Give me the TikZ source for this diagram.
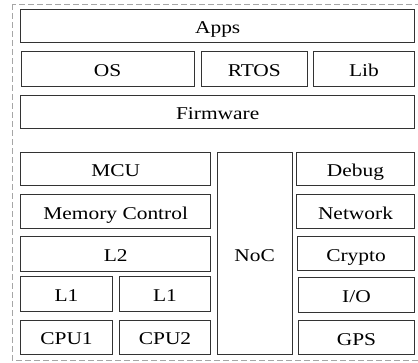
\documentclass[tikz,border=0pt]{standalone}
\usepackage{fontspec}
\setmainfont[FakeStretch=1.19]{Liberation Serif}
\usepackage{tikz}
\usetikzlibrary{positioning}

\begin{document}
\begin{tikzpicture}[x=1pt,y=-1pt]
            \tikzstyle{layer}=[rectangle, inner sep=0pt, line width=0.9pt, draw = black!80, minimum height = 34pt, text height=15.4pt, text depth=0pt, font=\fontsize{18}{20}\selectfont]
            \tikzstyle{frame}=[dashed, dash pattern=on 6pt off 3pt, line width=0.9pt, draw = black!35]
            \useasboundingbox (0,0) rectangle (418,362);
            \draw[frame] (12,4) rectangle (423,360);

            \node[layer, minimum width=394pt, minimum height=33.7pt] (Apps) at (217.7,25.85){Apps};
            \node[layer, minimum width=172.7pt, minimum height=34.3pt] (OS) at (107.65,68.85){OS};
            \node[layer, minimum width=106pt, minimum height=34.3pt] (RTOS) at (254.3,68.85){RTOS};
            \node[layer, minimum width=101.4pt, minimum height=34.3pt] (Lib) at (364,68.85){Lib};
            \node[layer, minimum width=394pt, minimum height=33.3pt] (FW) at (217.7,111.65){Firmware};

            \node[layer, minimum width=190pt, minimum height=33.4pt] (MCU) at (115.7,169){MCU};
            \node[layer, minimum width=190pt] (MC) at (115.7,211.3){Memory Control};
            \node[layer, minimum width=190pt, minimum height=34.3pt] (L2) at (115.7,253.85){L2};
            \node[layer, minimum width=91.6pt, minimum height=35pt] (L1a) at (66.5,294.2){L1};
            \node[layer, minimum width=91.4pt, minimum height=35pt] (L1b) at (165,294.2){L1};
            \node[layer, minimum width=91.6pt] (CPU1) at (66.5,337){CPU1};
            \node[layer, minimum width=91.4pt] (CPU2) at (165,337){CPU2};

            \node[layer, minimum width=74.7pt, minimum height=202pt] (NoC) at (254.65,253.3){NoC};

            \node[layer, minimum width=118.4pt, minimum height=33.4pt] (Debug) at (355.5,169){Debug};
            \node[layer, minimum width=118.4pt] (Net) at (355.5,211.3){Network};
            \node[layer, minimum width=117.4pt] (Crypto) at (356,253.7){Crypto};
            \node[layer, minimum width=116.4pt, minimum height=35pt] (IO) at (356.5,295.2){I/O};
            \node[layer, minimum width=116.4pt] (GPS) at (356.5,337.3){GPS};

        \end{tikzpicture}
\end{document}
